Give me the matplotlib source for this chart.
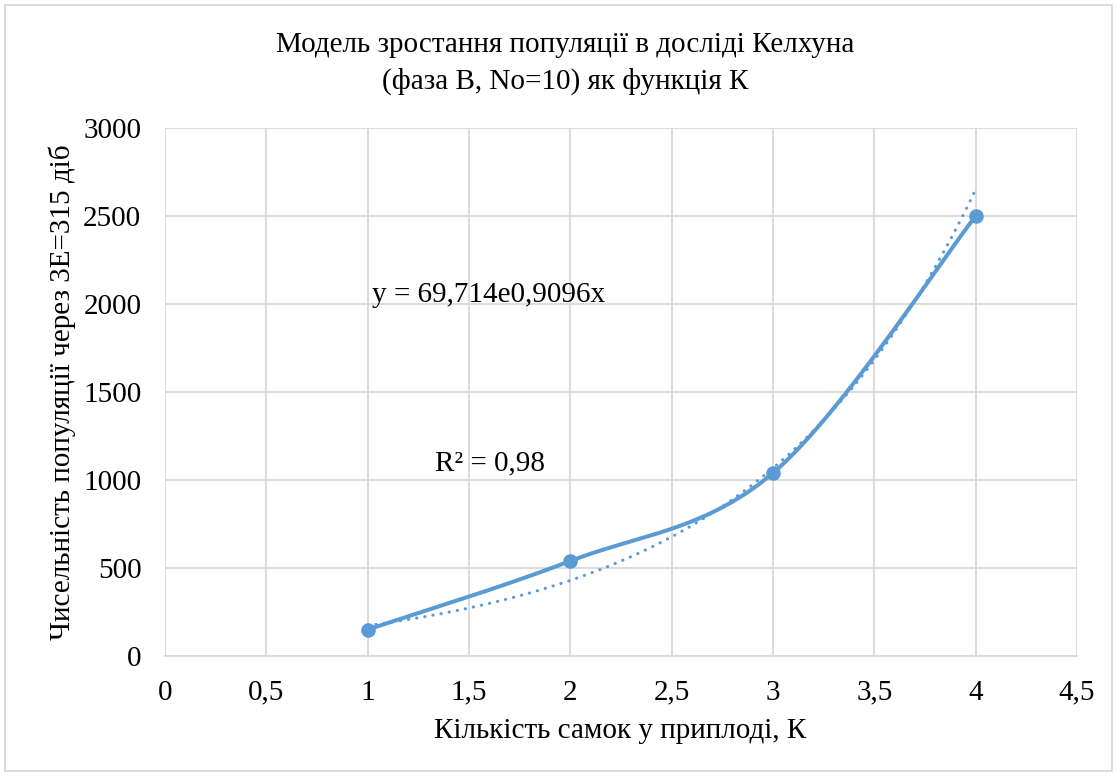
import numpy as np
import matplotlib
matplotlib.use('Agg')
import matplotlib.pyplot as plt
from matplotlib.patches import Rectangle

# Дані
k_values = [1, 2, 3, 4]
population = [150, 540, 1040, 2500]
x_ticks = [0, 0.5, 1, 1.5, 2, 2.5, 3, 3.5, 4, 4.5]
x_tick_labels = ['0', '0,5', '1', '1,5', '2', '2,5', '3', '3,5', '4', '4,5']
y_ticks = [0, 500, 1000, 1500, 2000, 2500, 3000]
y_tick_labels = ['0', '500', '1000', '1500', '2000', '2500', '3000']
eq_text = 'y = 69,714e0,9096x'
r2_text = 'R² = 0,98'

plt.rcParams['font.family'] = ['Liberation Serif', 'DejaVu Serif']
fs = 21

fig = plt.figure(figsize=(11.17, 7.76), dpi=100)
ax = fig.add_axes([0.1477, 0.1546, 0.8165, 0.6804])
ax.set_xlim(0, 4.5)
ax.set_ylim(0, 3000)

color = '#5B9BD5'
grid_c = '#D9D9D9'

# згладжена лінія (як в Excel) - криві Безьє у нормованих координатах
px = np.array(k_values, dtype=float) / 4.5 * 912
py = np.array(population, dtype=float) / 3000 * 528
pts = np.column_stack([px, py])
curve = []
n = len(pts)
for i in range(n - 1):
    p0 = pts[max(i - 1, 0)]
    p1 = pts[i]
    p2 = pts[i + 1]
    p3 = pts[min(i + 2, n - 1)]
    c1 = p1 + (p2 - p0) / 6
    c2 = p2 - (p3 - p1) / 6
    t = np.linspace(0, 1, 60)[:, None]
    seg = (1 - t) ** 3 * p1 + 3 * (1 - t) ** 2 * t * c1 + 3 * (1 - t) * t ** 2 * c2 + t ** 3 * p2
    curve.append(seg)
curve = np.vstack(curve)
cx = curve[:, 0] / 912 * 4.5
cy = curve[:, 1] / 528 * 3000
ax.plot(cx, cy, color=color, lw=2.9, solid_capstyle='round', zorder=3)
ax.plot(k_values, population, 'o', color=color, markersize=9.5, zorder=4)

# експоненційна лінія тренду
b, ln_a = np.polyfit(k_values, np.log(population), 1)
tx = np.linspace(min(k_values), max(k_values), 200)
ty = np.exp(ln_a) * np.exp(b * tx)
ax.plot(tx, ty, color=color, lw=2.2, linestyle=(0, (0.1, 2.6)),
        dash_capstyle='round', zorder=3)

ax.text(1.02, 2050, eq_text, fontsize=fs, va='center', ha='left')
ax.text(1.33, 1095, r2_text, fontsize=fs, va='center', ha='left')

ax.set_xticks(x_ticks)
ax.set_xticklabels(x_tick_labels)
ax.set_yticks(y_ticks)
ax.set_yticklabels(y_tick_labels)
ax.tick_params(length=0, labelsize=fs, colors='#000000', pad=17)
ax.grid(True, color=grid_c, lw=1.3)
ax.set_axisbelow(True)
for s in ['top', 'right', 'left']:
    ax.spines[s].set_visible(False)
ax.spines['bottom'].set_color(grid_c)
ax.spines['bottom'].set_linewidth(1.3)

fig.text(0.506, 1 - 45 / 776, 'Модель зростання популяції в досліді Келхуна',
         fontsize=fs, ha='center', va='center')
fig.text(0.506, 1 - 81 / 776, '(фаза B, No=10) як функція К',
         fontsize=fs, ha='center', va='center')
fig.text(620 / 1117, 1 - 731 / 776, 'Кількість самок у приплоді, К',
         fontsize=fs, ha='center', va='center')
fig.text(62 / 1117, 1 - 392 / 776, 'Чисельність популяції через 3E=315 діб',
         fontsize=fs, ha='center', va='center', rotation=90)

fig.patches.append(Rectangle((5 / 1117, 5 / 776), 1107 / 1117, 766 / 776,
                             transform=fig.transFigure, fill=False,
                             edgecolor=grid_c, lw=1.3))

fig.savefig('out.png', dpi=100)
